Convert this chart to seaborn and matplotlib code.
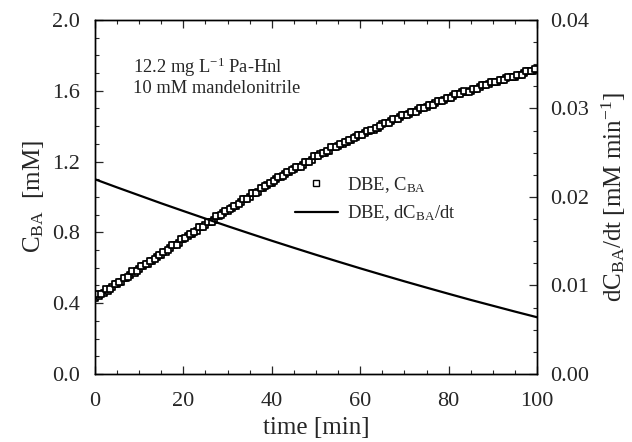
import numpy as np
import pandas as pd
import seaborn as sns
import matplotlib
matplotlib.use("Agg")
import matplotlib.pyplot as plt
from matplotlib.ticker import MultipleLocator
from matplotlib.lines import Line2D

# measured C_BA (mM), readings on the full minute
time_min = list(range(0, 101))
c_ba = [0.43, 0.44, 0.46, 0.47, 0.49, 0.51, 0.52, 0.54, 0.56, 0.57,
        0.59, 0.61, 0.62, 0.64, 0.66, 0.67, 0.69, 0.71, 0.73, 0.74,
        0.76, 0.78, 0.79, 0.81, 0.83, 0.84, 0.86, 0.87, 0.89, 0.91,
        0.92, 0.94, 0.95, 0.97, 0.99, 1.00, 1.02, 1.03, 1.05, 1.07,
        1.08, 1.10, 1.11, 1.13, 1.14, 1.16, 1.17, 1.18, 1.20, 1.21,
        1.23, 1.24, 1.25, 1.26, 1.28, 1.29, 1.30, 1.31, 1.32, 1.34,
        1.35, 1.36, 1.37, 1.38, 1.39, 1.41, 1.42, 1.43, 1.44, 1.45,
        1.46, 1.47, 1.48, 1.49, 1.50, 1.51, 1.52, 1.53, 1.54, 1.55,
        1.56, 1.57, 1.58, 1.59, 1.59, 1.60, 1.61, 1.62, 1.63, 1.64,
        1.65, 1.65, 1.66, 1.67, 1.68, 1.68, 1.69, 1.70, 1.71, 1.71,
        1.72]

# readings on the half minute (t = 0.5 ... 99.5)
time_half = [t + 0.5 for t in range(0, 100)]
c_ba_half = [0.45, 0.45, 0.48, 0.48, 0.51, 0.52, 0.54, 0.55, 0.58, 0.58,
             0.61, 0.62, 0.64, 0.65, 0.67, 0.69, 0.70, 0.73, 0.73, 0.76,
             0.77, 0.79, 0.80, 0.83, 0.83, 0.86, 0.86, 0.89, 0.90, 0.92,
             0.93, 0.95, 0.96, 0.99, 0.99, 1.02, 1.02, 1.05, 1.06, 1.08,
             1.09, 1.11, 1.12, 1.14, 1.15, 1.17, 1.17, 1.20, 1.20, 1.23,
             1.23, 1.25, 1.26, 1.28, 1.28, 1.30, 1.31, 1.32, 1.33, 1.35,
             1.35, 1.37, 1.38, 1.39, 1.40, 1.42, 1.42, 1.44, 1.44, 1.46,
             1.46, 1.48, 1.48, 1.50, 1.50, 1.52, 1.52, 1.54, 1.54, 1.56,
             1.56, 1.58, 1.58, 1.60, 1.59, 1.61, 1.61, 1.63, 1.63, 1.65,
             1.65, 1.66, 1.66, 1.68, 1.68, 1.69, 1.69, 1.71, 1.71, 1.72]

# fitted rate dC_BA/dt (mM/min)
rate_time = [0, 5, 10, 15, 20, 25, 30, 35, 40, 45, 50,
             55, 60, 65, 70, 75, 80, 85, 90, 95, 100]
rate = [0.02200, 0.02108, 0.02018, 0.01928, 0.01841, 0.01755, 0.01670,
        0.01587, 0.01505, 0.01425, 0.01346, 0.01269, 0.01193, 0.01119,
        0.01046, 0.00975, 0.00905, 0.00836, 0.00770, 0.00704, 0.00640]

df_c = pd.DataFrame({"time": time_min + time_half, "c": c_ba + c_ba_half})
df_r = pd.DataFrame({"time": rate_time, "rate": rate})

sns.set_theme(style="ticks")
plt.rcParams["font.family"] = ["Liberation Serif", "DejaVu Serif"]
plt.rcParams["mathtext.default"] = "regular"
plt.rcParams["xtick.direction"] = "in"
plt.rcParams["ytick.direction"] = "in"

fig = plt.figure(figsize=(6.32, 4.42), dpi=100)
ax = fig.add_axes([0.150, 0.154, 0.700, 0.801])

sns.scatterplot(data=df_c, x="time", y="c", ax=ax, marker="s", s=24,
                facecolor="white", edgecolor="black", linewidth=1.25, legend=False)

ax2 = ax.twinx()
sns.lineplot(data=df_r, x="time", y="rate", ax=ax2, color="black", linewidth=1.6, legend=False)

ax.set_xlim(0, 100)
ax.set_ylim(0, 2.0)
ax2.set_ylim(0, 0.04)

ax.xaxis.set_major_locator(MultipleLocator(20))
ax.xaxis.set_minor_locator(MultipleLocator(5))
ax.yaxis.set_major_locator(MultipleLocator(0.4))
ax.yaxis.set_minor_locator(MultipleLocator(0.1))
ax2.yaxis.set_major_locator(MultipleLocator(0.01))
ax2.yaxis.set_minor_locator(MultipleLocator(0.0025))

ax.tick_params(axis="x", which="both", top=True, bottom=True)
ax.tick_params(axis="x", which="major", length=6, width=0.9, labelsize=16, pad=13)
ax.tick_params(axis="y", which="major", length=6, width=0.9, labelsize=16, pad=11)
ax.tick_params(which="minor", length=3, width=0.8)
ax2.tick_params(which="major", length=6, width=0.9, labelsize=16, pad=9)
ax2.tick_params(which="minor", length=3, width=0.8)

ax.set_yticklabels([f"{v:.1f}" for v in ax.get_yticks()])
ax2.set_yticklabels([f"{v:.2f}" for v in ax2.get_yticks()])

for a in (ax, ax2):
    for sp in a.spines.values():
        sp.set_visible(True)
        sp.set_linewidth(1.0)
        sp.set_color("black")

ax.set_xlabel("time [min]", fontsize=18, labelpad=4)
ax.set_ylabel("C$_{BA}$  [mM]", fontsize=18, labelpad=4)
ax2.set_ylabel("dC$_{BA}$/dt [mM min$^{-1}$]", fontsize=18, labelpad=8)

ax.text(8.6, 1.80, "12.2 mg L$^{-1}$ Pa-Hnl\n10 mM mandelonitrile",
        fontsize=13.3, va="top", ha="left", linespacing=1.1)

handles = [Line2D([], [], marker="s", linestyle="none", markerfacecolor="white",
                  markeredgecolor="black", markersize=4),
           Line2D([], [], color="black", linewidth=1.6)]
labels = ["DBE, C$_{BA}$", "DBE, dC$_{BA}$/dt"]
ax.legend(handles, labels, loc="center left", bbox_to_anchor=(0.4525, 0.494),
          frameon=False, fontsize=13.4, handlelength=2.3, handletextpad=0.5,
          borderpad=0, borderaxespad=0, labelspacing=0.45)

fig.savefig("out.png", dpi=100)
